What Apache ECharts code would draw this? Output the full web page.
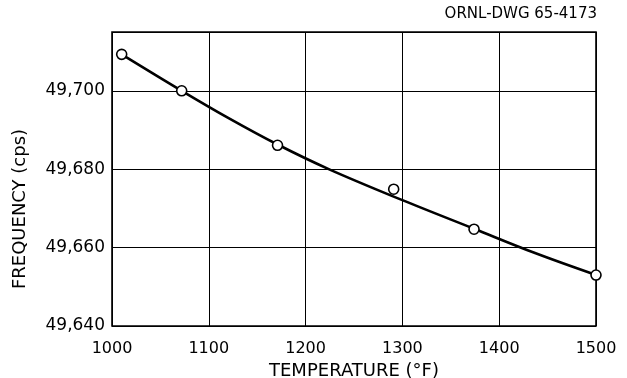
<!DOCTYPE html>
<html>
<head>
<meta charset="utf-8">
<script src="https://cdn.jsdelivr.net/npm/echarts@6/dist/echarts.min.js"></script>
<style>
html,body{margin:0;padding:0;background:#fff;}
#chart{width:627px;height:378px;}
</style>
</head>
<body>
<div id="chart"></div>
<script>
// Measured points (temperature °F, frequency cps)
const pointTemps = [1010, 1072, 1171, 1291, 1374, 1500];
const pointFreqs = [49709.3, 49700, 49686.1, 49674.9, 49664.7, 49653.0];
// Fitted curve
const curveTemps = [1010, 1072, 1120, 1171, 1225, 1300, 1374, 1437, 1500];
const curveFreqs = [49709.3, 49700, 49693.1, 49686.3, 49679.9, 49672.1, 49664.8, 49658.6, 49653.0];
const xTicks = [1000, 1100, 1200, 1300, 1400, 1500];
const yTicks = [49640, 49660, 49680, 49700];
const drawingId = 'ORNL-DWG 65-4173';
const xName = 'TEMPERATURE (°F)';
const yName = 'FREQUENCY (cps)';

const font = 'DejaVu Sans';
const chart = echarts.init(document.getElementById('chart'));
function fmtY(v){
  if (yTicks.indexOf(v) < 0) return '';
  const s = String(Math.round(v));
  return s.slice(0, s.length - 3) + ',' + s.slice(-3);
}
function fmtX(v){
  return xTicks.indexOf(v) < 0 ? '' : String(v);
}
chart.setOption({
  animation: false,
  backgroundColor: '#fff',
  grid: {left: 112, right: 31, top: 32, bottom: 52, show: true, borderColor: '#000', borderWidth: 1.6,
         containLabel: false, outerBoundsMode: 'none'},
  xAxis: {
    type: 'value', min: xTicks[0], max: xTicks[xTicks.length-1], interval: 100,
    name: xName, nameLocation: 'middle', nameGap: 36,
    nameTextStyle: {fontFamily: font, fontSize: 18, color: '#000'},
    axisLine: {show: false}, axisTick: {show: false},
    axisLabel: {fontFamily: font, fontSize: 16, color: '#000', margin: 15, formatter: fmtX},
    splitLine: {show: true, lineStyle: {color: '#000', width: 1}}
  },
  yAxis: {
    type: 'value', min: 49640, max: 49715, interval: 20,
    axisLine: {show: false}, axisTick: {show: false},
    axisLabel: {fontFamily: font, fontSize: 17, color: '#000', margin: 7, formatter: fmtY, showMaxLabel: false},
    splitLine: {show: true, lineStyle: {color: '#000', width: 1}}
  },
  graphic: [
    {type: 'text', right: 30, top: 7, style: {text: drawingId, fontFamily: font, fontSize: 15, fill: '#000'}},
    {type: 'text', x: 20, y: 209, rotation: Math.PI/2,
     style: {text: yName, fontFamily: font, fontSize: 18, fill: '#000', align: 'center', verticalAlign: 'middle'}}
  ],
  series: [
    {type: 'line', smooth: 0.35, showSymbol: false, symbol: 'none',
     data: curveTemps.map((t, i) => [t, curveFreqs[i]]),
     lineStyle: {color: '#000', width: 2.6}, z: 2},
    {type: 'scatter', symbol: 'circle', symbolSize: 10,
     data: pointTemps.map((t, i) => [t, pointFreqs[i]]),
     itemStyle: {color: '#fff', borderColor: '#000', borderWidth: 1.6, opacity: 1}, z: 3}
  ]
});
</script>
</body>
</html>
